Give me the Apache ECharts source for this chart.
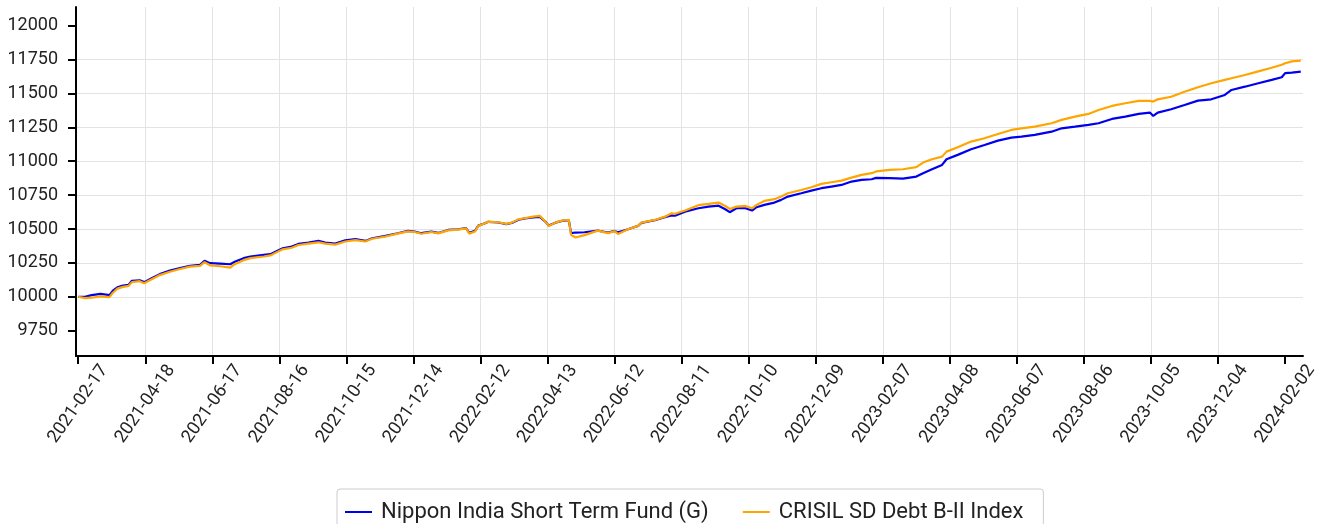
<!DOCTYPE html>
<html>
<head>
<meta charset="utf-8">
<script src="https://cdn.jsdelivr.net/npm/echarts@6/dist/echarts.min.js"></script>
<style>
html,body{margin:0;padding:0;background:#fff;}
#chart{width:1325px;height:524px;}
</style>
</head>
<body>
<div id="chart"></div>
<script>
// Day offsets from 2021-02-17
const days = [0, 6, 12, 20, 28, 31, 35, 40, 45, 48, 55, 59, 67, 73, 82, 91, 100, 109, 113, 118, 127, 136, 140, 148, 154, 166, 172, 176, 183, 191, 197, 206, 215, 221, 230, 239, 248, 257, 263, 274, 286, 295, 301, 307, 316, 322, 331, 340, 347, 350, 355, 358, 364, 367, 376, 383, 388, 394, 400, 407, 413, 418, 421, 427, 433, 439, 441, 445, 453, 465, 474, 480, 483, 492, 501, 504, 516, 525, 531, 534, 543, 555, 564, 573, 579, 583, 589, 597, 603, 607, 614, 623, 629, 635, 647, 656, 665, 674, 683, 692, 701, 710, 714, 726, 738, 750, 756, 764, 773, 777, 787, 799, 811, 823, 835, 844, 856, 871, 880, 892, 904, 913, 925, 937, 949, 959, 962, 966, 978, 990, 1002, 1014, 1026, 1032, 1044, 1056, 1068, 1077, 1080, 1086, 1094];

const fundValues = [10000, 9999, 10012, 10021, 10012, 10045, 10070, 10082, 10088, 10118, 10122, 10108, 10142, 10167, 10193, 10211, 10228, 10235, 10265, 10248, 10245, 10240, 10258, 10285, 10297, 10309, 10314, 10330, 10358, 10370, 10390, 10400, 10412, 10400, 10392, 10417, 10425, 10412, 10432, 10447, 10469, 10486, 10481, 10469, 10481, 10471, 10493, 10498, 10506, 10472, 10486, 10525, 10543, 10553, 10548, 10536, 10545, 10568, 10578, 10585, 10590, 10555, 10525, 10547, 10560, 10565, 10470, 10474, 10476, 10488, 10474, 10486, 10476, 10498, 10523, 10545, 10565, 10588, 10600, 10598, 10628, 10653, 10665, 10672, 10646, 10624, 10653, 10653, 10636, 10661, 10678, 10695, 10715, 10739, 10764, 10783, 10801, 10813, 10825, 10850, 10862, 10867, 10877, 10875, 10872, 10887, 10912, 10941, 10973, 11015, 11047, 11089, 11120, 11152, 11174, 11181, 11194, 11218, 11243, 11255, 11268, 11280, 11312, 11329, 11349, 11359, 11334, 11359, 11384, 11415, 11447, 11457, 11489, 11526, 11550, 11575, 11600, 11620, 11650, 11654, 11661];

const indexValues = [10000, 9990, 9993, 10003, 9997, 10030, 10060, 10073, 10080, 10108, 10115, 10100, 10135, 10160, 10185, 10205, 10222, 10228, 10255, 10232, 10225, 10215, 10240, 10270, 10285, 10297, 10305, 10322, 10350, 10362, 10382, 10392, 10402, 10392, 10385, 10408, 10418, 10408, 10428, 10443, 10466, 10482, 10478, 10465, 10478, 10468, 10490, 10496, 10504, 10466, 10481, 10523, 10543, 10555, 10550, 10538, 10547, 10572, 10580, 10591, 10597, 10555, 10523, 10547, 10562, 10567, 10457, 10437, 10455, 10488, 10470, 10484, 10464, 10498, 10523, 10547, 10567, 10591, 10616, 10612, 10636, 10676, 10685, 10695, 10670, 10648, 10665, 10670, 10653, 10678, 10707, 10720, 10740, 10764, 10788, 10808, 10833, 10845, 10857, 10879, 10899, 10912, 10925, 10936, 10941, 10956, 10990, 11015, 11034, 11071, 11103, 11145, 11170, 11201, 11231, 11243, 11255, 11280, 11305, 11329, 11349, 11378, 11408, 11428, 11445, 11445, 11440, 11457, 11476, 11513, 11546, 11575, 11600, 11612, 11636, 11663, 11690, 11712, 11723, 11737, 11742];

const seriesNames = ['Nippon India Short Term Fund (G)', 'CRISIL SD Debt B-II Index'];

const xTickLabels = ['2021-02-17', '2021-04-18', '2021-06-17', '2021-08-16', '2021-10-15', '2021-12-14', '2022-02-12', '2022-04-13', '2022-06-12', '2022-08-11', '2022-10-10', '2022-12-09', '2023-02-07', '2023-04-08', '2023-06-07', '2023-08-06', '2023-10-05', '2023-12-04', '2024-02-02'];
const xTickStep = 60;
const yTickValues = [9750, 10000, 10250, 10500, 10750, 11000, 11250, 11500, 11750, 12000];

const xTickPositions = xTickLabels.map((_, i) => i * xTickStep);

const chart = echarts.init(document.getElementById('chart'), null, {renderer: 'canvas'});
const font = 'Roboto';
chart.setOption({
  animation: false,
  backgroundColor: '#ffffff',
  grid: {left: 76, right: 22, top: 7, bottom: 168, containLabel: false},
  legend: {
    data: seriesNames,
    left: 337,
    top: 489,
    orient: 'horizontal',
    icon: 'rect',
    itemWidth: 27,
    itemHeight: 2,
    itemGap: 34,
    padding: [12, 20, 12, 8],
    borderColor: '#cccccc',
    borderWidth: 1,
    borderRadius: 3,
    textStyle: {fontFamily: font, fontSize: 22, color: '#222', padding: [0, 0, 0, 4]}
  },
  xAxis: {
    type: 'value',
    min: -2,
    max: 1096,
    minInterval: xTickStep,
    maxInterval: xTickStep,
    axisLine: {show: true, onZero: false, lineStyle: {color: '#000', width: 2}},
    axisTick: {show: true, length: 8, lineStyle: {color: '#000', width: 2}, customValues: xTickPositions},
    axisLabel: {
      customValues: xTickPositions,
      rotate: 55,
      align: 'center',
      verticalAlign: 'middle',
      margin: 48,
      fontFamily: font, fontSize: 18, color: '#222',
      formatter: function (v) {
        const i = Math.round(v / xTickStep);
        if (Math.abs(v - i * xTickStep) < 1e-6 && i >= 0 && i < xTickLabels.length) return xTickLabels[i];
        return '';
      }
    },
    splitLine: {show: true, showMinLine: false, showMaxLine: false, lineStyle: {color: '#e3e3e3', width: 1}}
  },
  yAxis: {
    type: 'value',
    min: 9563,
    max: 12138,
    minInterval: 250,
    maxInterval: 250,
    axisLine: {show: true, onZero: false, lineStyle: {color: '#000', width: 2}},
    axisTick: {show: true, length: 8, lineStyle: {color: '#000', width: 2}, customValues: yTickValues},
    axisLabel: {
      customValues: yTickValues,
      margin: 18,
      fontFamily: font, fontSize: 18, color: '#222',
      formatter: function (v) { return String(Math.round(v)); }
    },
    splitLine: {show: true, showMinLine: false, showMaxLine: false, lineStyle: {color: '#e3e3e3', width: 1}}
  },
  series: [
    {
      name: seriesNames[0],
      type: 'line',
      showSymbol: false,
      symbol: 'none',
      data: days.map((d, i) => [d, fundValues[i]]),
      lineStyle: {color: '#0000ee', width: 2.2},
      itemStyle: {color: '#0000ee'}
    },
    {
      name: seriesNames[1],
      type: 'line',
      showSymbol: false,
      symbol: 'none',
      data: days.map((d, i) => [d, indexValues[i]]),
      lineStyle: {color: '#ffa500', width: 2.2},
      itemStyle: {color: '#ffa500'}
    }
  ]
});
</script>
</body>
</html>
